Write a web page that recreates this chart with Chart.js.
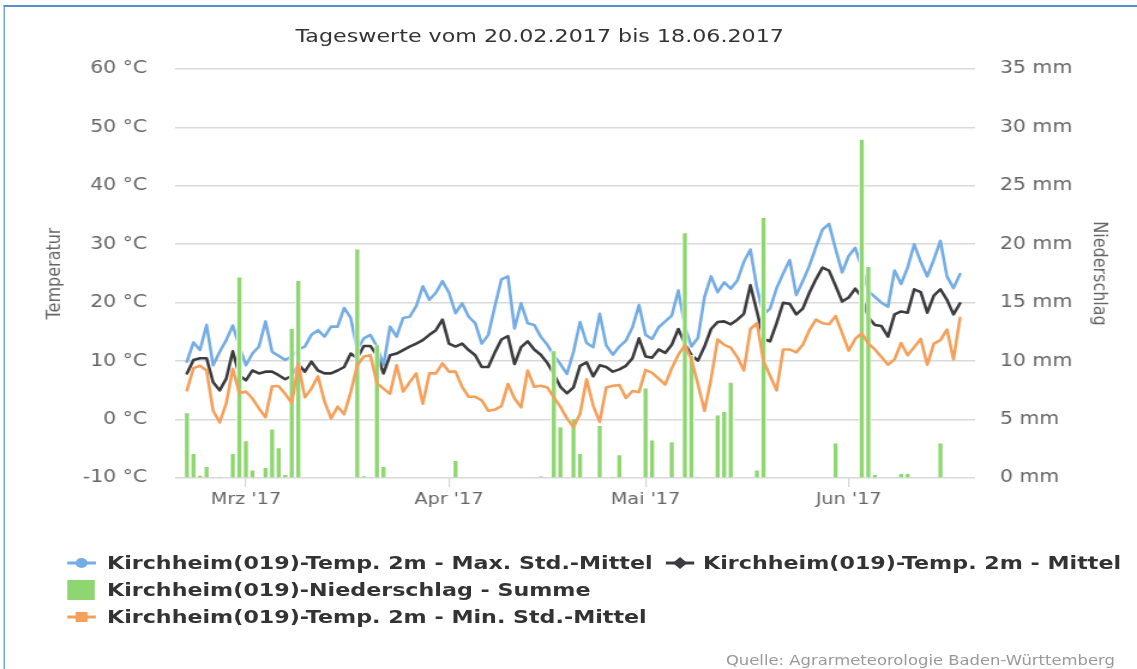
<!DOCTYPE html>
<html lang="de">
<head>
<meta charset="utf-8">
<title>Tageswerte Kirchheim (019)</title>
<script src="https://cdn.jsdelivr.net/npm/chart.js@4.4.1/dist/chart.umd.min.js"></script>
<style>
  html, body { margin: 0; padding: 0; background: #fff; overflow: hidden; width: 1137px; height: 669px; }
  /* the whole sheet is laid out on a 948px grid and widened to the window */
  #sheet { position: absolute; left: 0; top: 0; width: 948px; height: 669px;
           transform: scaleX(1.1994); transform-origin: 0 0;
           font-family: "DejaVu Sans", sans-serif; }
  #frame { position: absolute; left: 2.5px; top: 5px; width: 1000px; height: 700px;
           border-top: 2px solid #5b8dd6; border-left: 1.5px solid #5b8dd6; }
  #chart { position: absolute; left: 0; top: 0; }
  #title { position: absolute; left: 0; width: 900px; top: 26px; text-align: center;
           font-size: 18.5px; line-height: 20px; color: #333; white-space: nowrap; }
  .mark { position: absolute; width: 24px; height: 22px; }
  .lbl  { position: absolute; font-weight: bold; font-size: 18.5px; line-height: 22px;
          color: #333; white-space: nowrap; }
  #source { position: absolute; left: 0; width: 929.6px; top: 651px; text-align: right;
            font-size: 13.7px; line-height: 18px; color: #999; white-space: nowrap; }
</style>
</head>
<body>
<div id="sheet">
  <div id="frame"></div>
  <canvas id="chart" width="948" height="669"></canvas>
  <div id="title">Tageswerte vom 20.02.2017 bis 18.06.2017</div>

  <svg class="mark" style="left:55.8px;top:552px" viewBox="0 0 24 22">
    <line x1="0" y1="11" x2="24" y2="11" stroke="#74ace4" stroke-width="3"/>
    <circle cx="12" cy="11" r="5" fill="#74ace4"/>
  </svg>
  <div class="lbl" style="left:89.2px;top:552px">Kirchheim(019)-Temp. 2m - Max. Std.-Mittel</div>

  <svg class="mark" style="left:554.5px;top:552px" viewBox="0 0 24 22">
    <line x1="0" y1="11" x2="24" y2="11" stroke="#3c3c40" stroke-width="3"/>
    <path d="M12 5 L18 11 L12 17 L6 11 Z" fill="#3c3c40"/>
  </svg>
  <div class="lbl" style="left:586.2px;top:552px">Kirchheim(019)-Temp. 2m - Mittel</div>

  <svg class="mark" style="left:55.8px;top:579px" viewBox="0 0 24 22">
    <rect x="0" y="1" width="23" height="20" fill="#8fd672"/>
  </svg>
  <div class="lbl" style="left:89.2px;top:579px">Kirchheim(019)-Niederschlag - Summe</div>

  <svg class="mark" style="left:55.8px;top:606px" viewBox="0 0 24 22">
    <line x1="0" y1="11" x2="24" y2="11" stroke="#f4a05a" stroke-width="3"/>
    <rect x="7" y="6" width="10" height="10" fill="#f4a05a"/>
  </svg>
  <div class="lbl" style="left:89.2px;top:606px">Kirchheim(019)-Temp. 2m - Min. Std.-Mittel</div>

  <div id="source">Quelle: Agrarmeteorologie Baden-Württemberg</div>
</div>

<script>
// Daily values 20.02.2017 – 18.06.2017 (119 days)
const categories = Array.from({ length: 119 }, (_, i) => {
  const d = new Date(Date.UTC(2017, 1, 20 + i));
  return String(d.getUTCDate()).padStart(2, '0') + '.' + String(d.getUTCMonth() + 1).padStart(2, '0') + '.2017';
});

// Temp. 2m – Max. Std.-Mittel (°C)
const tMax = [
  9.9, 13.2, 11.9, 16.2, 9.3, 11.6, 13.6, 16.1, 12.5, 9.3,
  11.3, 12.5, 16.8, 11.6, 10.9, 10.2, 10.8, 12.0, 12.5, 14.5,
  15.3, 14.2, 15.9, 15.9, 19.1, 17.4, 12.0, 13.9, 14.5, 12.5,
  9.3, 15.9, 14.2, 17.4, 17.6, 19.4, 22.8, 20.5, 21.7, 23.7,
  21.7, 18.2, 19.9, 17.6, 16.5, 13.0, 14.5, 19.4, 24.0, 24.5,
  15.6, 19.9, 16.5, 16.2, 14.2, 12.8, 11.0, 9.5, 7.8, 11.6,
  16.7, 13.1, 12.4, 18.1, 12.7, 11.1, 12.5, 13.5, 15.8, 19.6,
  14.5, 13.8, 15.8, 16.8, 17.8, 22.1, 16.0, 12.5, 14.0, 21.0,
  24.5, 21.8, 23.5, 22.4, 23.8, 27.0, 29.1, 22.5, 18.0, 19.0,
  22.5, 25.0, 27.3, 21.3, 23.7, 26.3, 29.5, 32.5, 33.5, 29.2,
  25.2, 28.0, 29.4, 26.0, 22.0, 21.0, 20.0, 19.3, 25.5, 23.2,
  26.0, 30.0, 27.0, 24.5, 27.4, 30.6, 24.5, 22.5, 24.9
];

// Temp. 2m – Mittel (°C)
const tMean = [
  7.9, 10.2, 10.5, 10.5, 6.4, 5.0, 7.0, 11.7, 7.6, 6.7,
  8.4, 7.9, 8.2, 8.2, 7.6, 6.9, 7.5, 9.5, 8.2, 9.9,
  8.4, 7.9, 7.9, 8.4, 9.0, 11.3, 10.5, 12.6, 12.6, 11.0,
  7.9, 11.0, 11.3, 11.9, 12.5, 13.0, 13.6, 14.5, 15.3, 17.1,
  13.0, 12.5, 13.0, 11.9, 11.0, 9.0, 9.0, 11.5, 13.7, 14.3,
  9.5, 12.4, 13.4, 12.0, 11.1, 9.7, 7.8, 5.6, 4.5, 5.5,
  9.2, 9.8, 7.4, 9.3, 9.0, 8.2, 8.6, 9.2, 10.5, 13.9,
  10.8, 10.6, 12.0, 11.4, 12.8, 15.5, 13.0, 11.0, 10.1, 12.5,
  15.5, 16.7, 16.8, 16.3, 17.1, 18.1, 23.0, 18.5, 13.8, 13.4,
  16.5, 20.0, 19.8, 18.0, 19.0, 21.7, 24.0, 26.0, 25.5, 22.9,
  20.2, 20.9, 22.4, 21.0, 17.5, 16.2, 16.0, 14.2, 18.0, 18.5,
  18.3, 22.3, 21.8, 18.3, 21.2, 22.3, 20.5, 18.0, 19.9
];

// Temp. 2m – Min. Std.-Mittel (°C)
const tMin = [
  5.0, 8.8, 9.2, 8.4, 1.5, -0.5, 2.8, 8.7, 4.5, 4.8,
  3.6, 1.9, 0.4, 5.7, 5.7, 4.4, 2.8, 9.5, 3.8, 5.3,
  7.4, 3.1, 0.2, 2.2, 0.9, 4.7, 9.3, 10.8, 11.0, 6.2,
  5.3, 4.4, 9.3, 4.8, 6.4, 7.9, 2.7, 7.9, 7.9, 9.6,
  8.2, 8.2, 5.6, 3.9, 3.9, 3.3, 1.5, 1.7, 2.3, 6.1,
  3.6, 2.1, 8.4, 5.6, 5.8, 5.5, 3.8, 2.2, 0.2, -1.3,
  1.0, 6.9, 2.4, -0.4, 5.5, 5.8, 5.9, 3.7, 4.9, 4.7,
  8.5, 8.0, 7.0, 6.0, 8.8, 11.1, 12.7, 10.3, 6.0, 1.5,
  7.0, 13.7, 12.8, 12.3, 10.7, 8.4, 15.5, 16.5, 10.0, 7.5,
  5.0, 12.0, 12.0, 11.5, 12.8, 15.3, 17.1, 16.5, 16.3, 17.7,
  14.8, 11.8, 13.8, 14.8, 13.0, 12.0, 10.7, 9.4, 10.3, 13.1,
  11.0, 12.4, 13.8, 9.4, 13.0, 13.6, 15.4, 10.3, 17.4
];

// Niederschlag – Summe (mm)
const precip = [
  5.6, 2.1, 0.25, 1.0, 0, 0.1, 0, 2.1, 17.2, 3.2,
  0.7, 0, 0.9, 4.2, 2.6, 0.3, 12.8, 16.9, 0, 0,
  0, 0, 0, 0, 0, 0, 19.6, 0.2, 0, 11.4,
  1.0, 0, 0, 0, 0, 0, 0, 0, 0, 0,
  0, 1.5, 0, 0, 0, 0, 0, 0, 0, 0,
  0, 0, 0, 0, 0.15, 0, 10.9, 4.4, 0, 5.1,
  2.1, 0, 0, 4.5, 0, 0.1, 2.0, 0, 0, 0,
  7.7, 3.25, 0, 0, 3.1, 0, 21.0, 10.5, 0.1, 0,
  0, 5.4, 5.7, 8.2, 0, 0, 0, 0.7, 22.3, 0,
  0, 0, 0, 0, 0, 0, 0, 0, 0, 3.0,
  0, 0, 0, 29.0, 18.1, 0.3, 0, 0, 0, 0.4,
  0.4, 0, 0, 0, 0, 3.0, 0, 0, 0
];

// month ticks on the day axis
const monthTickDays = [9, 40, 70, 101];
const monthTickLabels = ["Mrz '17", "Apr '17", "Mai '17", "Jun '17"];

const BLUE = '#74ace4', BLACK = '#3c3c40', GREEN = '#8fd672', ORANGE = '#f4a05a';
const GRID = '#d9d9d9', LABEL = '#666666';
const FONT = 'DejaVu Sans';

const points = arr => arr.map((v, i) => ({ x: i, y: v }));

const lineStyle = color => ({
  type: 'line', borderColor: color, backgroundColor: color, borderWidth: 2.6,
  pointRadius: 0, pointHoverRadius: 0, tension: 0, fill: false, yAxisID: 'y',
  borderJoinStyle: 'round', borderCapStyle: 'round'
});

new Chart(document.getElementById('chart'), {
  type: 'line',
  data: {
    labels: categories,
    datasets: [
      Object.assign(lineStyle(BLUE),  { label: 'Kirchheim(019)-Temp. 2m - Max. Std.-Mittel', data: points(tMax),  order: 3 }),
      Object.assign(lineStyle(BLACK), { label: 'Kirchheim(019)-Temp. 2m - Mittel',          data: points(tMean), order: 2 }),
      {
        type: 'bar', label: 'Kirchheim(019)-Niederschlag - Summe', data: points(precip),
        backgroundColor: GREEN, borderColor: '#ffffff', borderWidth: 0.9, borderSkipped: 'start',
        barThickness: 4.5, yAxisID: 'y1', order: 1
      },
      Object.assign(lineStyle(ORANGE), { label: 'Kirchheim(019)-Temp. 2m - Min. Std.-Mittel', data: points(tMin), order: 0 })
    ]
  },
  options: {
    responsive: false,
    animation: false,
    devicePixelRatio: 1,
    events: [],
    layout: { padding: { top: 69, bottom: 161, left: 0, right: 0 } },
    plugins: { legend: { display: false }, tooltip: { enabled: false }, title: { display: false } },
    scales: {
      x: {
        type: 'linear', min: -1.8, max: 120.3, offset: false,
        afterBuildTicks: axis => { axis.ticks = monthTickDays.map(v => ({ value: v })); },
        afterFit: axis => { axis.height = 30; },
        ticks: {
          autoSkip: false, maxRotation: 0, padding: 3, color: LABEL,
          font: { family: FONT, size: 16 },
          callback: v => monthTickLabels[monthTickDays.indexOf(v)] || ''
        },
        grid: { offset: false, drawOnChartArea: false, drawTicks: true, tickLength: 9, color: '#ccd6eb', lineWidth: 1.2 },
        border: { display: false }
      },
      y: {
        position: 'left', min: -10, max: 60,
        afterFit: axis => { axis.width = 146; },
        ticks: { stepSize: 10, padding: 23.4, color: LABEL, font: { family: FONT, size: 17 },
                 callback: v => v + ' °C' },
        grid: { color: GRID, lineWidth: 1.6, drawTicks: false },
        border: { display: false },
        title: { display: true, text: 'Temperatur', color: LABEL,
                 font: { family: FONT, size: 16 }, padding: { top: 36, bottom: 0 } }
      },
      y1: {
        position: 'right', min: 0, max: 35,
        afterFit: axis => { axis.width = 135; },
        ticks: { stepSize: 5, padding: 20.8, color: LABEL, font: { family: FONT, size: 17 },
                 callback: v => v + ' mm' },
        grid: { drawOnChartArea: false, drawTicks: false },
        border: { display: false },
        title: { display: true, text: 'Niederschlag', color: LABEL,
                 font: { family: FONT, size: 16 }, padding: { top: 22.5, bottom: 0 } }
      }
    }
  }
});
</script>
</body>
</html>
